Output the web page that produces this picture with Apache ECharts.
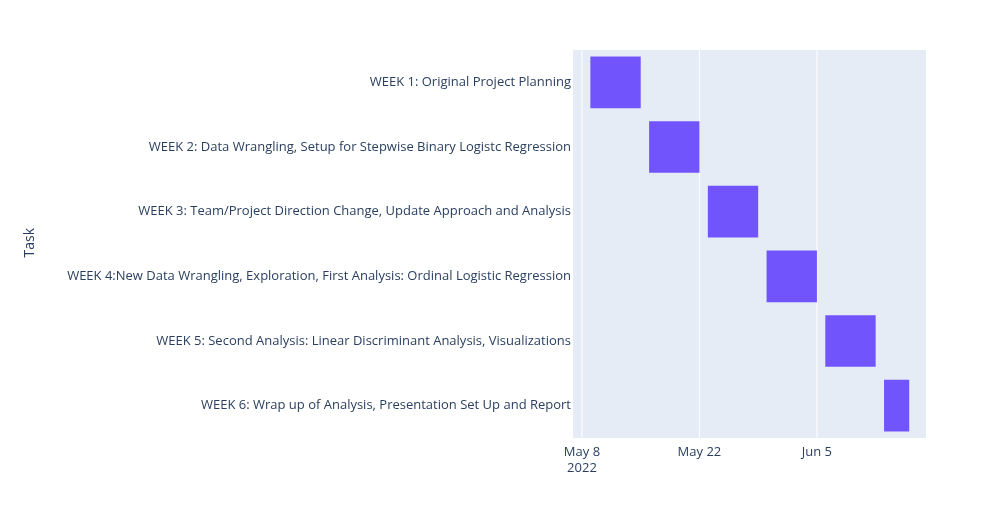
<!DOCTYPE html>
<html><head><meta charset="utf-8">
<script src="https://cdn.jsdelivr.net/npm/echarts@6/dist/echarts.min.js"></script>
<style>html,body{margin:0;padding:0;background:#fff}#main{width:995px;height:507px}</style>
</head><body><div id="main"></div>
<script>
var tasks = [
  'WEEK 1: Original Project Planning',
  'WEEK 2: Data Wrangling, Setup for Stepwise Binary Logistc Regression',
  'WEEK 3: Team/Project Direction Change, Update Approach and Analysis',
  'WEEK 4:New Data Wrangling, Exploration, First Analysis: Ordinal Logistic Regression',
  'WEEK 5: Second Analysis: Linear Discriminant Analysis, Visualizations',
  'WEEK 6: Wrap up of Analysis, Presentation Set Up and Report'
];
var starts = ['2022-05-09', '2022-05-16', '2022-05-23', '2022-05-30', '2022-06-06', '2022-06-13'];
var finishes = ['2022-05-15', '2022-05-22', '2022-05-29', '2022-06-05', '2022-06-12', '2022-06-16'];
var tickDates = ['2022-05-08', '2022-05-22', '2022-06-05'];
var tickLabels = ['May 8\n2022', 'May 22', 'Jun 5'];

function ms(d) { return new Date(d + 'T00:00:00Z').getTime(); }
var DAY = 86400000;
var data = tasks.map(function (t, i) { return [ms(starts[i]), ms(finishes[i]), i]; });
var tickMs = tickDates.map(ms);

var myChart = echarts.init(document.getElementById('main'));
var txt = {color: '#2a3f5f', fontFamily: 'Open Sans', fontSize: 13};
var option = {
  animation: false,
  grid: {left: 573, right: 69, top: 50, bottom: 69, show: true, backgroundColor: '#E5ECF6', borderWidth: 0},
  xAxis: {
    type: 'value',
    min: ms('2022-05-08') - 1.07 * DAY,
    max: ms('2022-05-08') + 41 * DAY,
    axisLine: {show: false}, axisTick: {show: false}, splitLine: {show: false},
    axisLabel: Object.assign({
      customValues: tickMs,
      formatter: function (v) { return tickLabels[tickMs.indexOf(v)] || ''; },
      lineHeight: 16, margin: 6
    }, txt)
  },
  yAxis: {
    type: 'category', data: tasks, inverse: true,
    axisLine: {show: false}, axisTick: {show: false}, splitLine: {show: false},
    axisLabel: Object.assign({margin: 2}, txt)
  },
  graphic: [{
    type: 'text', left: 23, top: 228, rotation: Math.PI / 2,
    style: {text: 'Task', fill: '#2a3f5f', font: '14px "Open Sans"'}
  }],
  series: [{
    type: 'custom', silent: true, z: 1,
    renderItem: function (params, api) {
      var p = api.coord([api.value(0), 0]);
      var cs = params.coordSys;
      return {type: 'line', shape: {x1: p[0], y1: cs.y, x2: p[0], y2: cs.y + cs.height},
        style: {stroke: '#ffffff', lineWidth: 1}};
    },
    encode: {x: 0},
    data: tickMs.map(function (t) { return [t]; })
  }, {
    type: 'custom', z: 2,
    renderItem: function (params, api) {
      var a = api.coord([api.value(0), api.value(2)]);
      var b = api.coord([api.value(1), api.value(2)]);
      var h = api.size([0, 1])[1] * 0.8;
      return {type: 'rect', shape: {x: a[0], y: a[1] - h / 2, width: b[0] - a[0], height: h},
        style: {fill: '#7254fd'}};
    },
    encode: {x: [0, 1], y: 2},
    data: data
  }]
};
myChart.setOption(option);
</script></body></html>
